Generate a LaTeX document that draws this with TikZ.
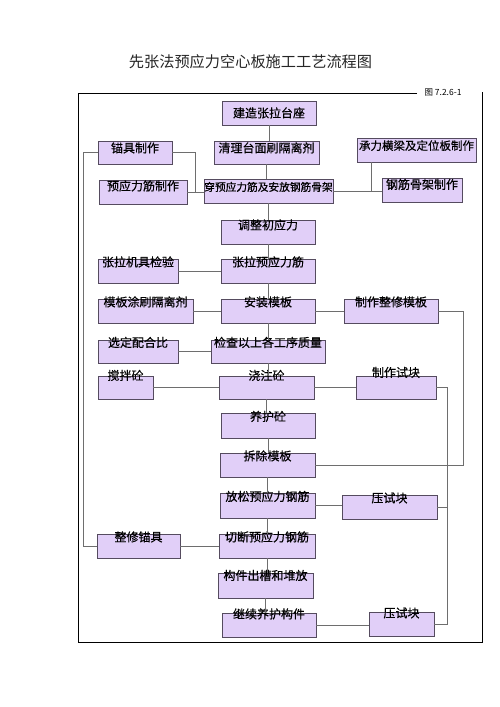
\documentclass[tikz,border=0pt]{standalone}
\usepackage{fontspec}
\newfontfamily\cjk{Noto Sans CJK SC}
\newfontfamily\cjkbox[FakeBold=0.4]{Noto Sans CJK SC}
\usepackage{xcolor}
\usepackage{tikz}

\definecolor{stagefill}{RGB}{225,207,248}
\definecolor{stageline}{RGB}{85,75,95}
\definecolor{linkgray}{RGB}{110,110,110}

\begin{document}
\begin{tikzpicture}[
    x=1pt, y=-1pt,
    stage/.style={
        rectangle,
        draw=stageline,
        fill=stagefill,
        line width=0.8pt,
        inner sep=0pt,
        minimum height=24pt,
        font=\cjkbox\fontsize{12}{13}\selectfont,
        text height=0pt,
        text depth=9pt
    },
    stagemid/.style={
        stage,
        text depth=0pt
    },
    stagecentre/.style={
        stage,
        text height=9pt,
        text depth=0pt
    },
    link/.style={
        draw=linkgray,
        line width=0.8pt
    },
    frame/.style={
        draw=black,
        line width=1pt
    }
]
\useasboundingbox (0,0) rectangle (500,707);

% title and frame
\node[font=\cjk\fontsize{15.2}{16}\selectfont, text=black!85] (title) at (250.5,62) {先张法预应力空心板施工工艺流程图};
\node[font=\cjk\fontsize{8.5}{9}\selectfont, inner sep=0pt] (fignum) at (443,92) {图 7.2.6-1};
\draw[frame] (417,93) -- (78,93) -- (78,642) -- (482,642) -- (482,92);

% main column
\node[stagecentre, minimum width=94pt] (build) at (269,113) {建造张拉台座};
\node[stagemid, minimum width=105pt, minimum height=23pt] (clean) at (266.5,152.5) {清理台面刷隔离剂};
\node[stagemid, minimum width=129pt, font=\cjkbox\fontsize{10.7}{12}\selectfont] (thread) at (268.5,191) {穿预应力筋及安放钢筋骨架};
\node[stage, minimum width=94pt, text depth=5pt] (adjust) at (268,232) {调整初应力};
\node[stage, minimum width=94pt] (tension) at (268,271) {张拉预应力筋};
\node[stage, minimum width=94pt] (formwork) at (268,311) {安装模板};
\node[stage, minimum width=114pt, minimum height=23pt] (inspect) at (268,351.5) {检查以上各工序质量};
\node[stage, minimum width=95pt, minimum height=23pt, text depth=15pt] (pour) at (266.5,387.5) {浇注砼};
\node[stage, minimum width=94pt, minimum height=25pt] (cure) at (268,425.5) {养护砼};
\node[stage, minimum width=95pt] (strip) at (267.5,465) {拆除模板};
\node[stage, minimum width=95pt, minimum height=25pt] (release) at (267.5,505.5) {放松预应力钢筋};
\node[stage, minimum width=96pt] (cut) at (267,546) {切断预应力钢筋};
\node[stage, minimum width=95pt, minimum height=25pt, text depth=11pt] (stack) at (265.5,585.5) {构件出槽和堆放};
\node[stage, minimum width=94pt, text depth=13pt] (keepcure) at (269,625) {继续养护构件};

% left column
\node[stagemid, minimum width=74pt, minimum height=23pt] (anchor) at (135,152.5) {锚具制作};
\node[stage, minimum width=88pt, text depth=3pt] (tendon) at (143,192) {预应力筋制作};
\node[stage, minimum width=80pt] (jack) at (138,271) {张拉机具检验};
\node[stage, minimum width=95pt] (oil) at (145.5,311) {模板涂刷隔离剂};
\node[stage, minimum width=80pt, minimum height=23pt] (mix) at (138,351.5) {选定配合比};
\node[stage, minimum width=55pt, minimum height=23pt, text depth=15pt] (stir) at (125.5,387.5) {搅拌砼};
\node[stage, minimum width=83pt] (fixanchor) at (138.5,546) {整修锚具};

% right column
\node[stagemid, minimum width=119pt, font=\cjkbox\fontsize{11.5}{12}\selectfont] (beam) at (416.5,150) {承力横梁及定位板制作};
\node[stage, minimum width=80pt, text depth=2pt] (cage) at (422,190) {钢筋骨架制作};
\node[stage, minimum width=94pt] (mould) at (391,311) {制作整修模板};
\node[stage, minimum width=80pt, minimum height=23pt, text depth=21pt] (sample) at (396,387.5) {制作试块};
\node[stage, minimum width=95pt] (test1) at (389.5,507) {压试块};
\node[stage, minimum width=65pt, text depth=13pt] (test2) at (401.5,624) {压试块};

% main column links
\foreach \a/\b in {build/clean, clean/thread, thread/adjust, adjust/tension,
    tension/formwork, formwork/inspect, inspect/pour, pour/cure, cure/strip,
    strip/release, release/cut, cut/stack, stack/keepcure}
    \draw[link] (\a.south) -- (\a.south |- \b.north);

% side links
\coordinate (lbus) at ([xshift=-14pt]anchor.west);
\coordinate (rbus) at ([xshift=11pt]sample.east);
\draw[link] (anchor.east) -| ([xshift=8pt]tendon.east);
\draw[link] (tendon.east) -- (tendon.east -| thread.west);
\draw[link] (anchor.west) -- (lbus) |- (fixanchor.west);
\draw[link] ([xshift=15pt]beam.south west) -- ([xshift=15pt]beam.south west |- thread.east);
\draw[link] (thread.east) -- (thread.east -| cage.west);
\draw[link] (jack.east) -- (jack.east -| tension.west);
\draw[link] (oil.east) -- (oil.east -| formwork.west);
\draw[link] (formwork.east) -- (formwork.east -| mould.west);
\draw[link] (mould.east) -- ++(25,0) |- (strip.east);
\draw[link] (mix.east) -- (mix.east -| inspect.west);
\draw[link] (stir.east) -- (stir.east -| pour.west);
\draw[link] (pour.east) -- (pour.east -| sample.west);
\draw[link] (sample.east) -- (rbus) |- (test2.east);
\draw[link] (test1.east) -- (test1.east -| rbus);
\draw[link] (release.east) -- (release.east -| test1.west);
\draw[link] (fixanchor.east) -- (fixanchor.east -| cut.west);
\draw[link] (keepcure.east) -- (keepcure.east -| test2.west);

\end{tikzpicture}
\end{document}
